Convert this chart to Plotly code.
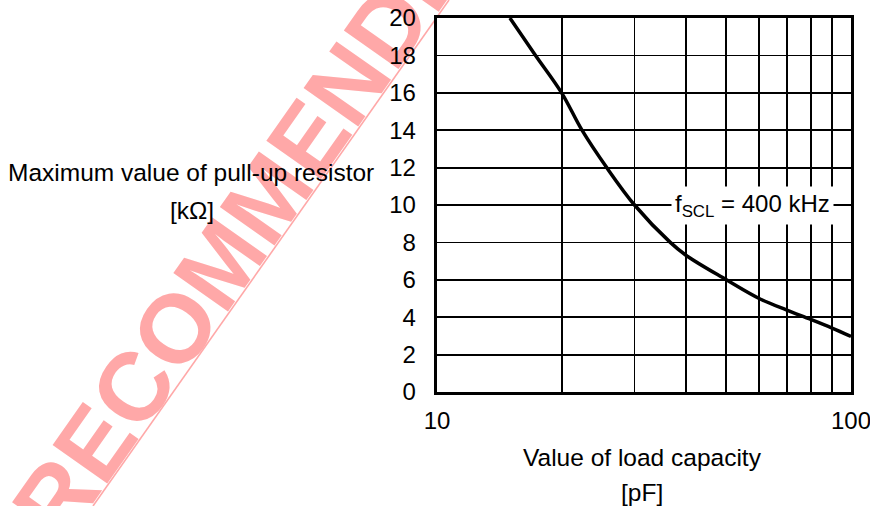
import plotly.graph_objects as go

# ---- data ----
load_capacity_pf = [15, 17.3, 20, 22.4, 25.7, 30, 36.6, 40, 50, 60, 70, 80, 90, 100]
max_pullup_kohm = [20, 18, 16, 14, 12, 10, 8, 7.3, 6, 5.0, 4.38, 3.88, 3.42, 2.97]
x_major_ticks = [10, 100]
x_tick_text = ["10", "100"]
x_minor_grid = [20, 30, 40, 50, 60, 70, 80, 90]
y_tick_vals = [0, 2, 4, 6, 8, 10, 12, 14, 16, 18, 20]
curve_label = "f<sub>SCL</sub> = 400 kHz"
y_title = ["Maximum value of pull-up resistor", "[kΩ]"]
x_title = ["Value of load capacity", "[pF]"]
watermark = "RECOMMENDED"

W, H = 870, 506
ML, MR, MT, MB = 437, 19, 18, 114
PW, PH = W - ML - MR, H - MT - MB


def px(xp, yp):
    return (xp - ML) / PW, (H - MB - yp) / PH


FONT = "Arial, Liberation Sans, Helvetica, sans-serif"
WM_COLOR = "rgb(255,168,168)"
GRID_W = 1.8

fig = go.Figure()
fig.add_trace(go.Scatter(
    x=load_capacity_pf, y=max_pullup_kohm, mode="lines",
    line=dict(color="black", width=3.5, shape="spline", smoothing=1.0),
    showlegend=False, hoverinfo="skip",
))

axis_common = dict(
    showline=True, linecolor="black", linewidth=3.3, mirror=True,
    showgrid=True, gridcolor="black", gridwidth=GRID_W,
    zeroline=False, ticks="", automargin=False, ticklabeloverflow="allow",
    tickfont=dict(family=FONT, size=24, color="black"),
)

fig.update_xaxes(type="log", range=[1, 2], tickvals=x_major_ticks, ticktext=x_tick_text,
                 ticklabelstandoff=5,
                 minor=dict(tickvals=x_minor_grid, showgrid=True, gridcolor="black",
                            gridwidth=GRID_W, ticks=""),
                 **axis_common)
fig.update_yaxes(range=[0, 20], tickvals=y_tick_vals, ticklabelstandoff=13, **axis_common)

# watermark drawn as a label of an invisible shape in the lowest layer,
# so tick labels and titles sit on top of it
cx0, cy0 = px(243, 192)
cx1, cy1 = px(263, 212)
fig.add_shape(type="rect", xref="paper", yref="paper", x0=cx0, y0=cy0, x1=cx1, y1=cy1,
              line=dict(width=0, color="rgba(0,0,0,0)"), fillcolor="rgba(0,0,0,0)",
              layer="below",
              label=dict(text=watermark, textangle=-54.9, textposition="middle center",
                         font=dict(family=FONT, size=97, color=WM_COLOR, weight="bold")))

x0, y0 = px(449, 0)
x1, y1 = px(93, 506)
fig.add_shape(type="line", xref="paper", yref="paper", x0=x0, y0=y0, x1=x1, y1=y1,
              line=dict(color=WM_COLOR, width=1.6), layer="below")

annotations = []
title_font = dict(family=FONT, size=24.5, color="black")
for (cx, cy), txt in zip([(191, 172), (192, 210), (642, 457), (642, 492)],
                         [y_title[0], y_title[1], x_title[0], x_title[1]]):
    ax, ay = px(cx, cy)
    annotations.append(dict(x=ax, y=ay, xref="paper", yref="paper", text=txt, showarrow=False,
                            xanchor="center", yanchor="middle", font=title_font))

lx, _ = px(752, 0)
annotations.append(dict(x=lx, y=10, xref="paper", yref="y", text=curve_label, showarrow=False,
                        xanchor="center", yanchor="middle", bgcolor="white", borderpad=3,
                        font=dict(family=FONT, size=24, color="black")))

fig.update_layout(
    width=W, height=H, margin=dict(l=ML, r=MR, t=MT, b=MB, autoexpand=False),
    paper_bgcolor="white", plot_bgcolor="white",
    annotations=annotations, showlegend=False,
)

fig.write_html("out.html", config={"displayModeBar": False, "staticPlot": True},
               post_script="document.body.style.margin='0';document.body.style.overflow='hidden';")
